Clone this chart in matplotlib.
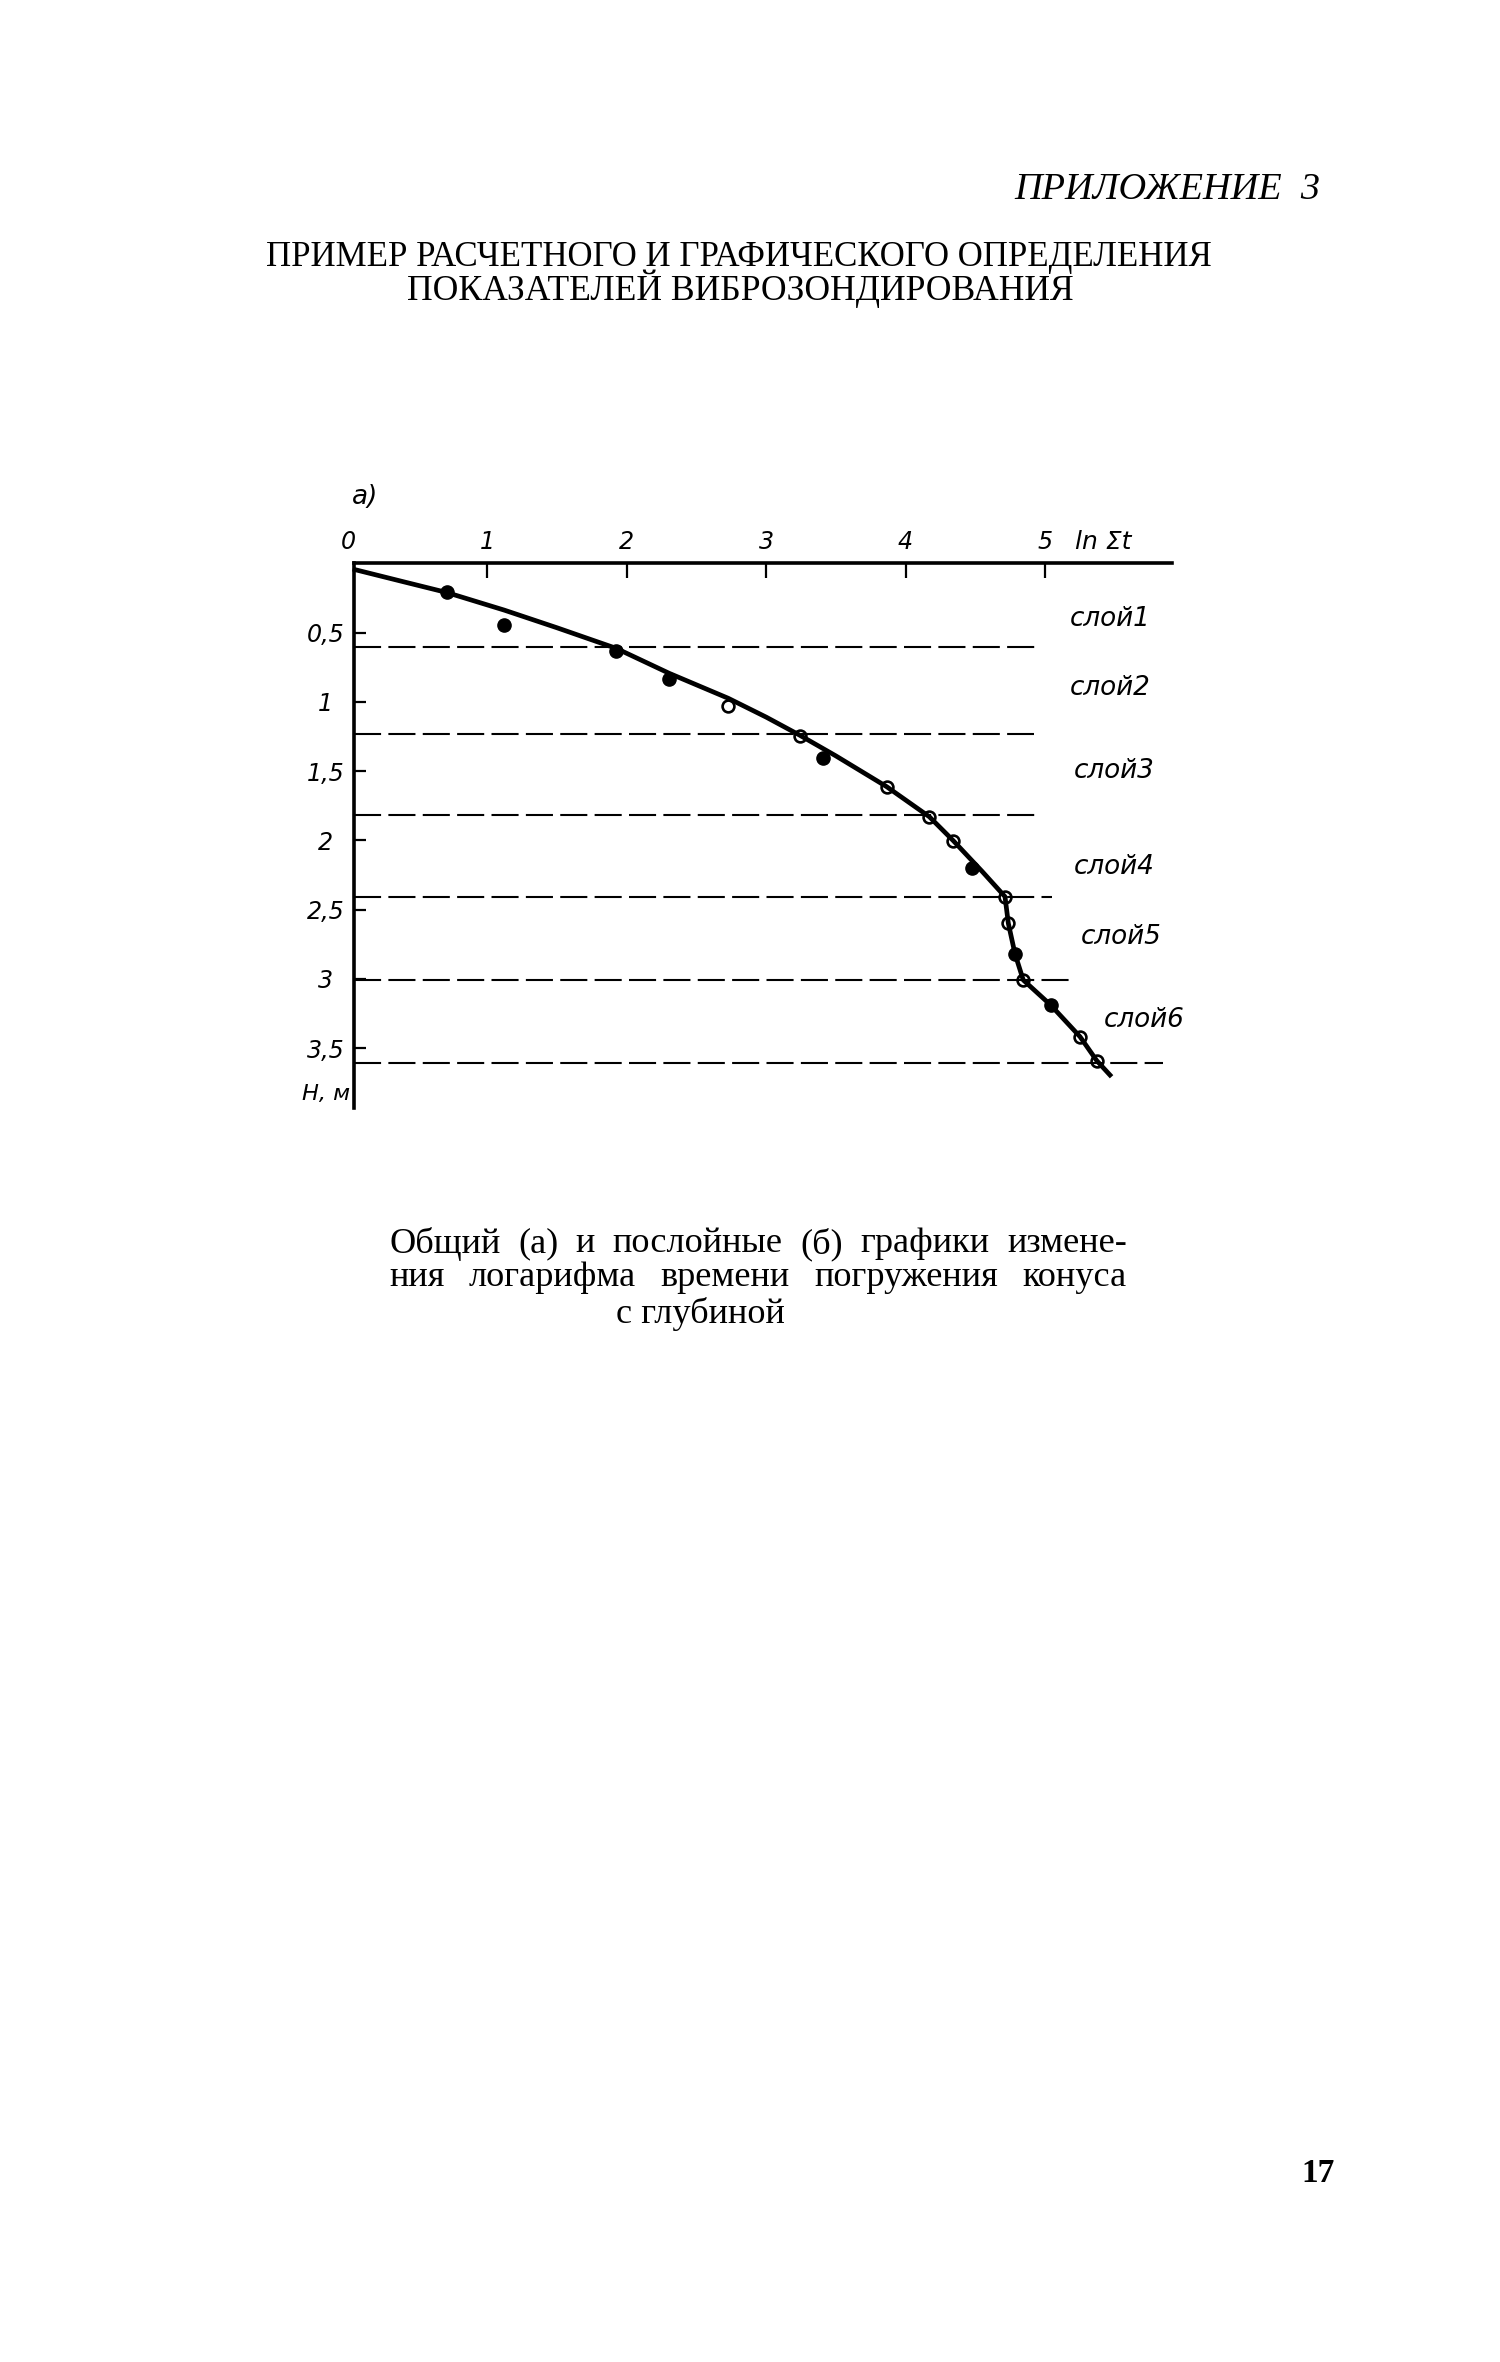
import matplotlib
matplotlib.use("Agg")
import matplotlib.pyplot as plt
from matplotlib import font_manager
from matplotlib.transforms import offset_copy

x_meas = [0.708, 1.119, 1.923, 2.305, 2.728, 3.242, 3.41, 3.864, 4.17, 4.342,
          4.474, 4.713, 4.737, 4.785, 4.844, 5.04, 5.251, 5.371]
h_meas = [0.209, 0.445, 0.630, 0.837, 1.03, 1.243, 1.407, 1.612, 1.829, 2.002,
          2.202, 2.406, 2.599, 2.82, 3.008, 3.188, 3.417, 3.59]
filled = [True, True, True, True, False, False, True, False, False, False,
          True, False, False, True, False, True, False, False]

# drawn curve
x_curve = [0.05, 0.4, 0.708, 1.12, 1.5, 1.923, 2.305, 2.728, 3.0, 3.238, 3.5,
           3.864, 4.17, 4.342, 4.55, 4.713, 4.737, 4.785, 4.844, 5.04, 5.251,
           5.371, 5.466]
h_curve = [0.045, 0.133, 0.21, 0.337, 0.465, 0.613, 0.794, 0.974, 1.11, 1.239,
           1.39, 1.612, 1.829, 2.002, 2.225, 2.406, 2.599, 2.82, 3.008, 3.188,
           3.417, 3.59, 3.694]

# layer boundaries
layer_bounds = [0.60, 1.23, 1.815, 2.41, 3.01, 3.61]
layer_ends = [4.96, 4.92, 4.95, 5.05, 5.20, 5.85]
layer_names = ["слой1", "слой2", "слой3", "слой4", "слой5", "слой6"]
label_x = [5.47, 5.47, 5.50, 5.50, 5.55, 5.71]
label_h = [0.40, 0.90, 1.50, 2.19, 2.70, 3.30]

x_ticks = [0, 1, 2, 3, 4, 5]
h_ticks = [0.5, 1, 1.5, 2, 2.5, 3, 3.5]
h_ticklabels = ["0,5", "1", "1,5", "2", "2,5", "3", "3,5"]

W, H = 1500, 2362
SERIF = "Liberation Serif"

# the drawing uses a narrow italic lettering; take a narrow face if there is one
names = {f.name for f in font_manager.fontManager.ttflist}
if "Liberation Sans Narrow" in names:
    SANS = dict(family="Liberation Sans Narrow", fontstyle="italic")
    k = 1.15
else:
    SANS = dict(family="DejaVu Sans", fontstyle="italic")
    k = 0.9


def fx(px):
    return px / W


def fy(py):
    return 1 - py / H


fig = plt.figure(figsize=(W / 100, H / 100), dpi=100)
renderer = fig.canvas.get_renderer()


def fit_width(t, width_px):
    w = t.get_window_extent(renderer).width
    t.set_fontsize(t.get_fontsize() * width_px / w)


def justify(words, x0, x1, py, size):
    texts = [fig.text(0, fy(py), w, family=SERIF, fontsize=size, va="center") for w in words]
    widths = [t.get_window_extent(renderer).width for t in texts]
    gap = (x1 - x0 - sum(widths)) / (len(words) - 1)
    x = x0
    for t, w in zip(texts, widths):
        t.set_x(fx(x))
        x += w + gap


# header
t = fig.text(fx(1320), fy(190), "ПРИЛОЖЕНИЕ  3", family=SERIF, fontstyle="italic",
             fontsize=22, ha="right", va="center")
fit_width(t, 305)
t = fig.text(fx(739), fy(257), "ПРИМЕР РАСЧЕТНОГО И ГРАФИЧЕСКОГО ОПРЕДЕЛЕНИЯ",
             family=SERIF, fontsize=22, ha="center", va="center")
fit_width(t, 946)
t = fig.text(fx(740), fy(289), "ПОКАЗАТЕЛЕЙ ВИБРОЗОНДИРОВАНИЯ",
             family=SERIF, fontsize=22, ha="center", va="center")
fit_width(t, 666)

# axes placed so that data maps onto the scan's pixel grid
px0, kx, py0, ky = 348.0, 139.4, 563.4, 138.5
xlim = (-1.2, 6.4)
hlim = (4.2, -0.9)
left = px0 + kx * xlim[0]
right = px0 + kx * xlim[1]
top = py0 + ky * hlim[1]
bottom = py0 + ky * hlim[0]
ax = fig.add_axes([fx(left), fy(bottom), (right - left) / W, (bottom - top) / H])
ax.set_xlim(*xlim)
ax.set_ylim(*hlim)
ax.patch.set_alpha(0)

for s in ["right", "bottom"]:
    ax.spines[s].set_visible(False)
ax.spines["left"].set_position(("data", 0.04))
ax.spines["left"].set_bounds(0, 3.93)
ax.spines["top"].set_position(("data", 0.0))
ax.spines["top"].set_bounds(0.04, 5.91)
for s in ["left", "top"]:
    ax.spines[s].set_linewidth(2.6)

ax.xaxis.tick_top()
ax.set_xticks(x_ticks)
ax.set_xticklabels([str(v) for v in x_ticks], **SANS)
ax.tick_params(axis="x", direction="in", length=11, width=1.6, pad=7, labelsize=19 * k)
ax.xaxis.get_major_ticks()[0].tick2line.set_visible(False)

ax.set_yticks(h_ticks)
ax.set_yticklabels(h_ticklabels, ha="center", **SANS)
ax.tick_params(axis="y", direction="in", length=8.5, width=1.6, pad=20, labelsize=19 * k)

ax.hlines(layer_bounds, 0.04, layer_ends, colors="black", linewidth=1.5,
          linestyles=[(0, (13, 3.5))], zorder=2)
ax.plot(x_curve, h_curve, color="black", lw=3.4, zorder=3)

xf = [x for x, f in zip(x_meas, filled) if f]
hf = [h for h, f in zip(h_meas, filled) if f]
xo = [x for x, f in zip(x_meas, filled) if not f]
ho = [h for h, f in zip(h_meas, filled) if not f]
ax.plot(xf, hf, "o", ms=9.5, color="black", ls="none", zorder=4)
ax.plot(xo, ho, "o", ms=8.5, mfc="none", mec="black", mew=1.9, ls="none", zorder=4)

for name, lx, lh in zip(layer_names, label_x, label_h):
    ax.text(lx, lh, name, fontsize=21 * k, ha="center", va="center", **SANS)

above = offset_copy(ax.transData, fig=fig, y=7, units="points")
ax.text(5.42, 0, "ln Σt", fontsize=20 * k, ha="center", va="bottom", transform=above, **SANS)
ax.text(0.12, -0.48, "а)", fontsize=21 * k, ha="center", va="center", **SANS)
ax.text(-0.16, 3.83, "Н, м", fontsize=18 * k, ha="center", va="center", **SANS)

# caption: pick the size from the natural width of the lines, then justify
line1 = "Общий (а) и послойные (б) графики измене-"
line2 = "ния логарифма времени погружения конуса"
size = 30
for line in [line1, line2]:
    t = fig.text(0, 0, line, family=SERIF, fontsize=30)
    size = min(size, 30 * 738 * 0.93 / t.get_window_extent(renderer).width)
    t.remove()
justify(line1.split(), 389, 1127, 1244, size)
justify(line2.split(), 389, 1127, 1277, size)
fig.text(fx(700), fy(1314), "с глубиной", family=SERIF, fontsize=size, ha="center", va="center")

fig.text(fx(1318), fy(2174), "17", family=SERIF, fontweight="bold", fontsize=24,
         ha="center", va="center")

fig.savefig("out.png", dpi=100)
